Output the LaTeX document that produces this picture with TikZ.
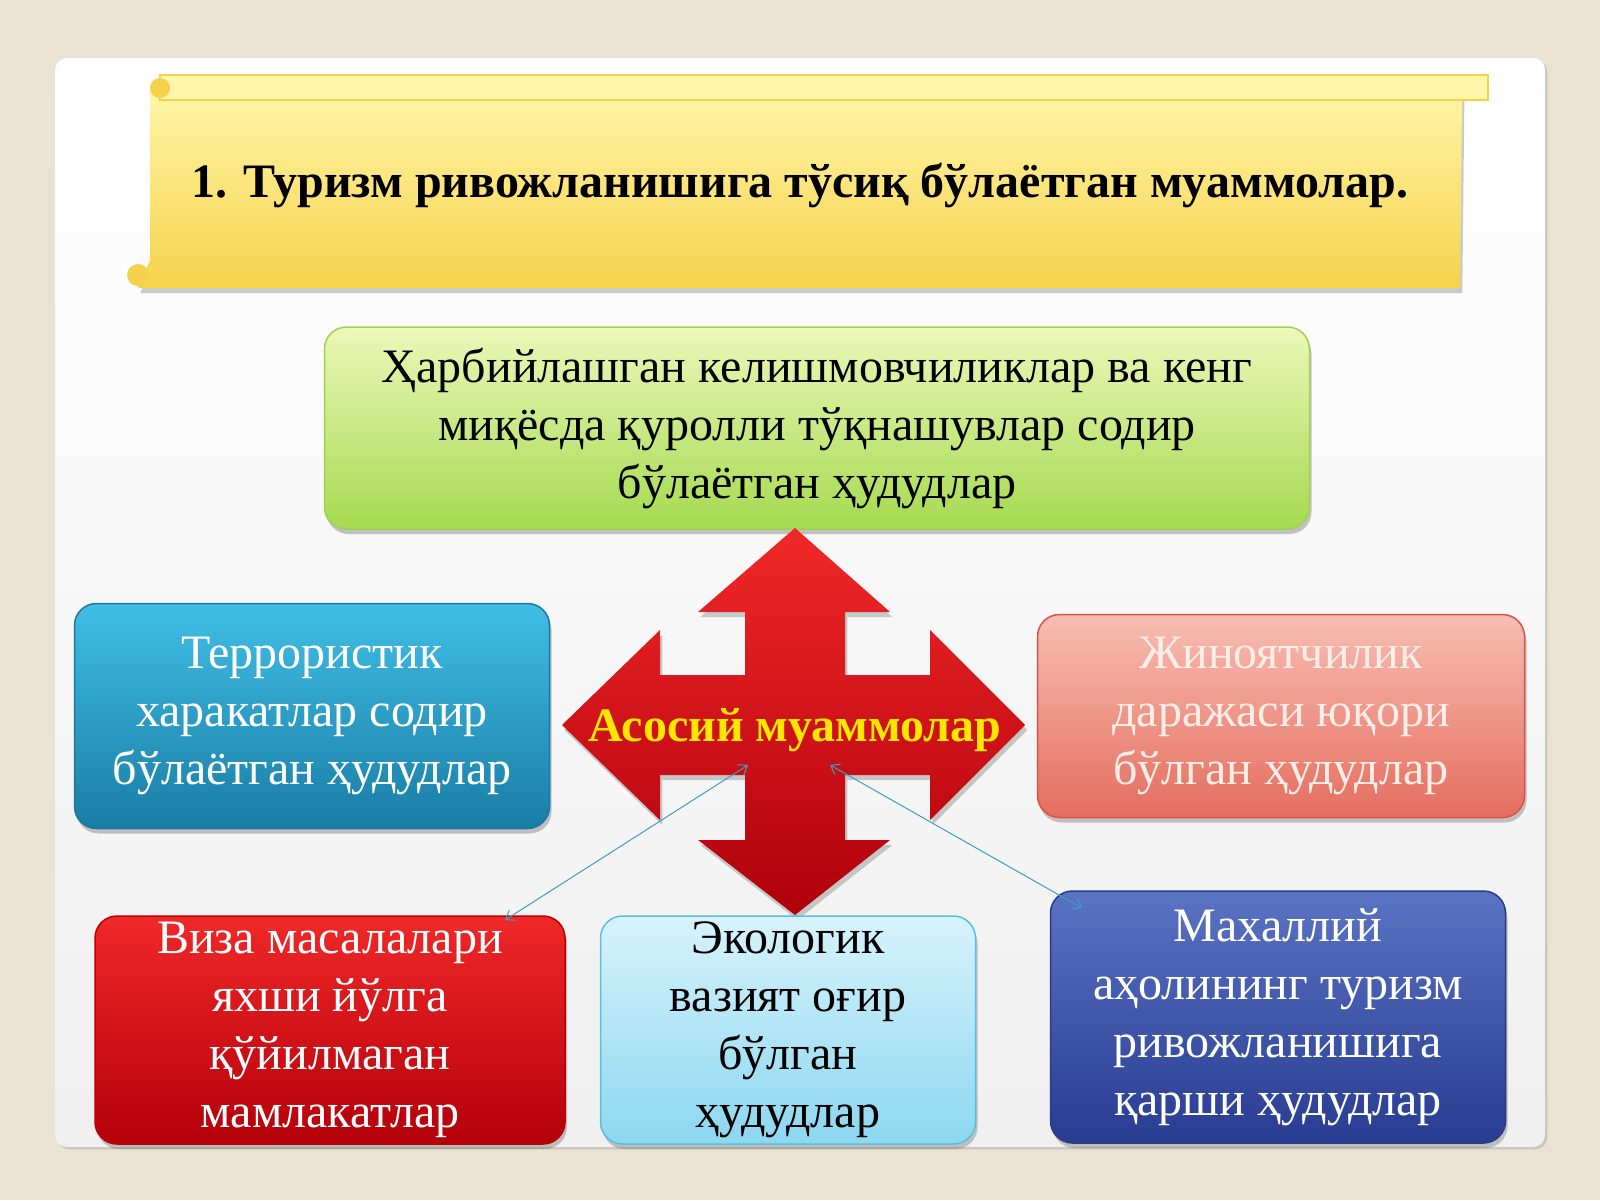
\documentclass[tikz,border=0pt]{standalone}
\usepackage{fontspec}
\setmainfont{Liberation Serif}
\usetikzlibrary{shadows,arrows.meta}
\definecolor{bgbeige}{HTML}{EAE3D3}
\definecolor{scrolltop}{HTML}{FFF6A8}
\definecolor{scrollbot}{HTML}{F6D24C}
\begin{document}
\begin{tikzpicture}[x=1pt,y=-1pt,
    box/.style={rounded corners=22pt,line width=1.5pt,drop shadow={shadow xshift=2pt,shadow yshift=-5pt,opacity=.45},
      align=center,font=\fontsize{48}{58}\selectfont},
    link/.style={{Straight Barb[length=8pt,width=12pt]}-{Straight Barb[length=8pt,width=12pt]},draw={rgb,255:red,60;green,160;blue,190},line width=1pt}]
  \useasboundingbox (0,0) rectangle (1600,1200);
  \fill[bgbeige] (0,0) rectangle (1600,1200);
  % panel
  \shade[rounded corners=12pt,top color=white,bottom color=gray!12,drop shadow={opacity=.3}] (55,58) rectangle (1545,1147);
  % scroll
  \shade[top color=scrolltop,bottom color=scrollbot,drop shadow={shadow yshift=-5pt,opacity=.4}]
    (150,90) -- (1462,90) -- (1462,100) -- (1460,288) -- (138,288) -- (150,260) -- cycle;
  \fill[scrolltop,draw=scrollbot,line width=1.5pt] (160,75) rectangle (1488,100);
  \fill[scrollbot] (160,88) circle (10pt) (138,275) circle (11pt);
  \node[font=\fontsize{48}{56}\selectfont\bfseries] (title) at (800,185) {1. Туризм ривожланишига тўсиқ бўлаётган муаммолар.};
  % green
  \node[box,minimum width=985pt,minimum height=202pt,draw={rgb,255:red,160;green,210;blue,80},
    top color={rgb,255:red,235;green,248;blue,185},bottom color={rgb,255:red,165;green,218;blue,80}] (war) at (817,428)
    {Ҳарбийлашган келишмовчиликлар ва кенг\\ миқёсда қуролли тўқнашувлар содир\\ бўлаётган ҳудудлар};
  % cross
  \shade[top color={rgb,255:red,240;green,40;blue,40},bottom color={rgb,255:red,175;green,0;blue,10},drop shadow={shadow yshift=-5pt,opacity=.4}]
    (795,528) -- (890,612) -- (845,612) -- (845,675) -- (930,675) -- (930,630) -- (1025,725) -- (930,820) -- (930,775)
    -- (845,775) -- (845,840) -- (890,840) -- (795,915) -- (698,840) -- (745,840) -- (745,775) -- (660,775) -- (660,820)
    -- (562,725) -- (660,630) -- (660,675) -- (745,675) -- (745,612) -- (698,612) -- cycle;
  \node[font=\fontsize{48}{56}\selectfont\bfseries,text={rgb,255:red,255;green,230;blue,0}] (main) at (795,730) {Асосий муаммолар};
  % side boxes
  \node[box,minimum width=475pt,minimum height=225pt,draw={rgb,255:red,30;green,120;blue,160},text=white,
    top color={rgb,255:red,65;green,190;blue,230},bottom color={rgb,255:red,25;green,125;blue,165}] (terror) at (312,716)
    {Террористик\\ харакатлар содир\\ бўлаётган ҳудудлар};
  \node[box,minimum width=487pt,minimum height=203pt,draw={rgb,255:red,225;green,80;blue,70},text={rgb,255:red,255;green,238;blue,232},
    top color={rgb,255:red,248;green,190;blue,178},bottom color={rgb,255:red,228;green,110;blue,95}] (crime) at (1281,716)
    {Жиноятчилик\\ даражаси юқори\\ бўлган ҳудудлар};
  % bottom boxes
  \node[box,minimum width=470pt,minimum height=228pt,draw={rgb,255:red,190;green,0;blue,0},text=white,
    top color={rgb,255:red,240;green,40;blue,40},bottom color={rgb,255:red,180;green,0;blue,10}] (visa) at (330,1030)
    {Виза масалалари\\ яхши йўлга\\ қўйилмаган\\ мамлакатлар};
  \node[box,minimum width=375pt,minimum height=228pt,draw={rgb,255:red,90;green,190;blue,225},
    top color={rgb,255:red,215;green,243;blue,252},bottom color={rgb,255:red,140;green,215;blue,240}] (eco) at (788,1030)
    {Экологик\\ вазият оғир\\ бўлган\\ ҳудудлар};
  \node[box,minimum width=455pt,minimum height=252pt,draw={rgb,255:red,40;green,60;blue,140},text=white,
    top color={rgb,255:red,90;green,115;blue,195},bottom color={rgb,255:red,40;green,60;blue,145}] (local) at (1278,1017)
    {Махаллий\\ аҳолининг туризм\\ ривожланишига\\ қарши ҳудудлар};
  % links
  \coordinate (inL) at (748,765);
  \coordinate (inR) at (830,765);
  \coordinate (outL) at (505,920);
  \coordinate (outR) at (1082,908);
  \draw[link] (inL) -- (outL);
  \draw[link] (inR) -- (outR);
\end{tikzpicture}
\end{document}
